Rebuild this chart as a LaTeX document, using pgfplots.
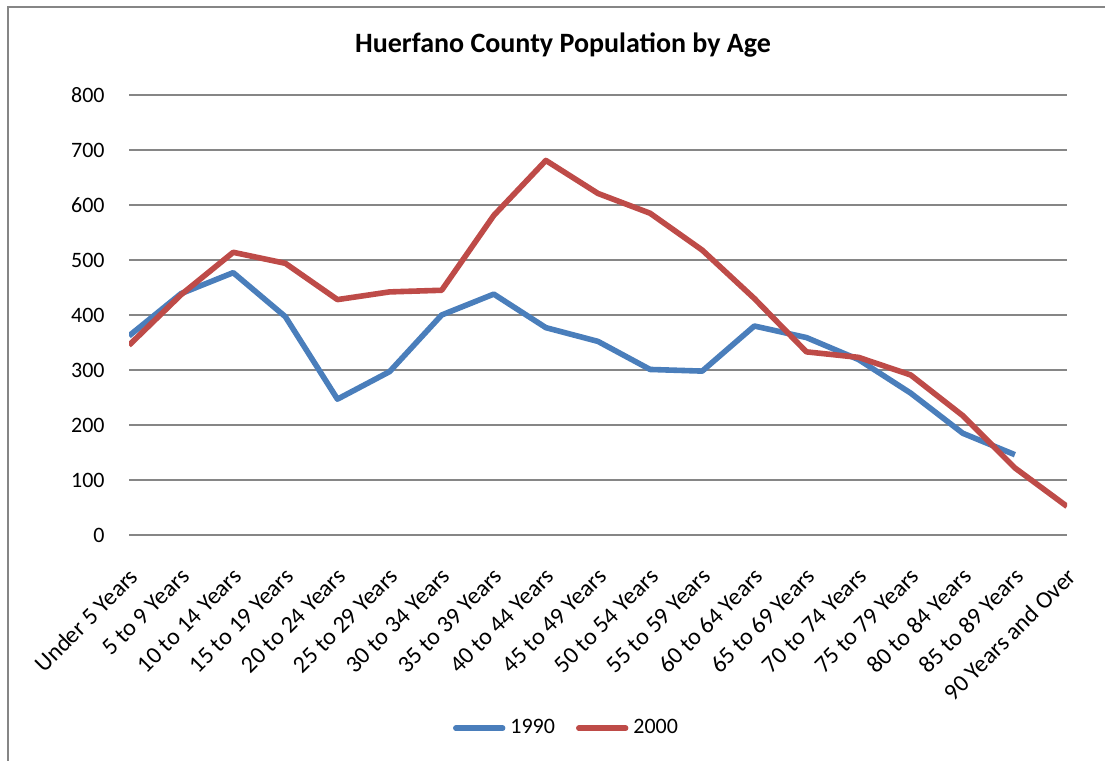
\documentclass[border=0pt]{standalone}
\usepackage{pgfplots}
\pgfplotsset{compat=1.18}
\usepackage{fontspec}
\setmainfont{Carlito}
\definecolor{blue90}{HTML}{4A7EBB}
\definecolor{red00}{HTML}{BE4B48}
\definecolor{gridc}{HTML}{868686}
\begin{document}
\begin{tikzpicture}
\useasboundingbox (0,0) rectangle (552.5pt,380.5pt);
\draw[color=gridc, line width=0.8pt] (4pt,0pt) -- (4pt,377pt) -- (552.5pt,377pt);
\begin{axis}[
  at={(64.5pt,113pt)}, anchor=south west,
  scale only axis, width=469pt, height=220pt,
  xmin=0, xmax=18, ymin=0, ymax=800,
  ytick={0,100,...,800},
  xtick={0,...,18},
  xticklabels={Under 5 Years,5 to 9 Years,10 to 14 Years,15 to 19 Years,20 to 24 Years,25 to 29 Years,30 to 34 Years,35 to 39 Years,40 to 44 Years,45 to 49 Years,50 to 54 Years,55 to 59 Years,60 to 64 Years,65 to 69 Years,70 to 74 Years,75 to 79 Years,80 to 84 Years,85 to 89 Years,90 Years and Over},
  /pgf/number format/assume math mode=true,
  axis line style={draw=none},
  major tick length=0pt,
  ymajorgrids,
  grid style={gridc, line width=0.75pt},
  yticklabel style={font=\fontsize{11}{13}\selectfont, anchor=east, inner sep=0pt, xshift=-12pt},
  xticklabel style={font=\fontsize{12}{14}\selectfont, xshift=-0.65pt, yshift=-15.6pt, rotate=45, anchor=north east, inner sep=0pt},
  legend style={at={(0.4654,-0.4393)}, anchor=center, draw=none, fill=none, legend columns=2,
    font=\fontsize{11}{13}\selectfont, inner sep=0pt,
    nodes={inner sep=0pt},
    /tikz/every odd column/.append style={column sep=2.5pt},
    /tikz/every even column/.append style={column sep=10.5pt}},
  legend image code/.code={\draw[#1, line cap=round] (1.3pt,0pt) -- (24.7pt,0pt);},
]
\addplot[blue90, line width=2.8pt, line join=round] coordinates {
(0,362) (1,439) (2,477) (3,397) (4,247) (5,297) (6,400) (7,438) (8,377) (9,352)
(10,301) (11,298) (12,380) (13,359) (14,319) (15,258) (16,185) (17,146)};
\addlegendentry{1990}
\addplot[red00, line width=2.8pt, line join=round] coordinates {
(0,345) (1,437) (2,514) (3,494) (4,428) (5,442) (6,445) (7,581) (8,681) (9,621)
(10,585) (11,518) (12,430) (13,333) (14,323) (15,291) (16,217) (17,122) (18,52)};
\addlegendentry{2000}
\end{axis}
\node[font=\bfseries\fontsize{14}{16}\selectfont] at (281.5pt,358pt) {Huerfano County Population by Age};
\end{tikzpicture}
\end{document}
